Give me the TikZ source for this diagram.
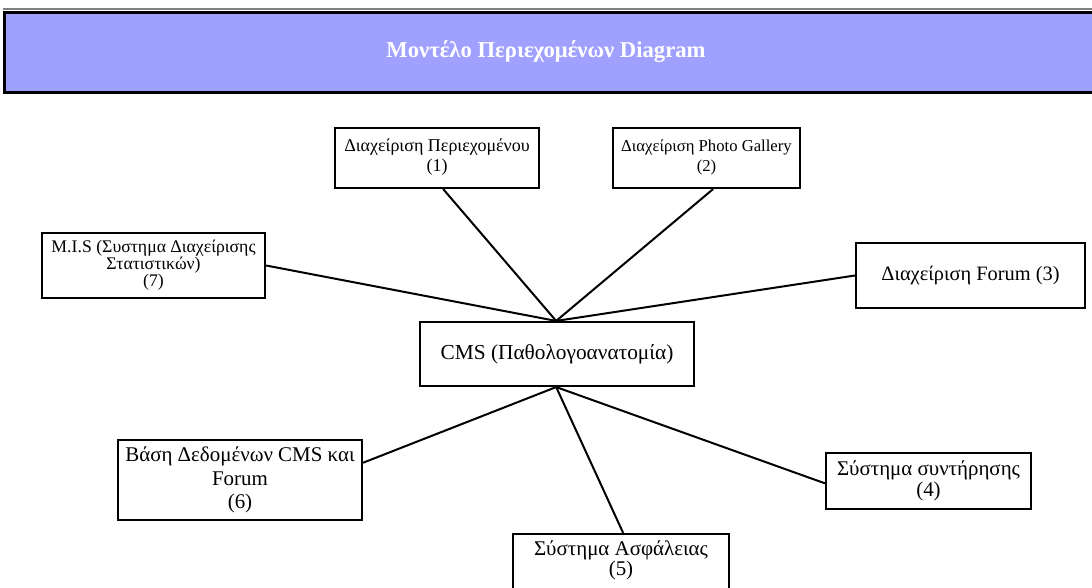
\documentclass[tikz,border=0pt]{standalone}
\usepackage{fontspec}
\setmainfont{Liberation Serif}
\usetikzlibrary{calc}
\definecolor{titlefill}{HTML}{A0A0FF}
\tikzset{
  box/.style={draw=black, line width=1.6pt, fill=white, align=center, inner sep=2pt},
  link/.style={draw=black, line width=1.5pt},
}
\begin{document}
\begin{tikzpicture}[x=0.75pt,y=-0.75pt]
\useasboundingbox (0,0) rectangle (1092,588);
% title bar
\draw[gray, line width=1.2pt] (3,9) -- (1100,9);
\draw[gray, line width=1.2pt] (3,93) -- (1100,93);
\node[draw=black, line width=2pt, fill=titlefill, minimum width=1110*0.75pt, minimum height=80*0.75pt, anchor=north west, inner sep=0pt] (title) at (3,11) {};
\node[text=white, font=\bfseries\fontsize{17}{20}\selectfont] (ttext) at (546,52) {Μοντέλο Περιεχομένων Diagram};
% boxes
\node[box, minimum width=204*0.75pt, minimum height=60*0.75pt, font=\fontsize{13.5}{15}\selectfont] (b1) at (437,158) {Διαχείριση Περιεχομένου\\(1)\\[-10.5pt]};
\node[box, minimum width=187*0.75pt, minimum height=60*0.75pt, font=\fontsize{12.5}{15}\selectfont] (b2) at (706.5,158) {Διαχείριση Photo Gallery\\(2)\\[-11pt]};
\node[box, minimum width=223*0.75pt, minimum height=65*0.75pt, font=\fontsize{13.3}{12.8}\selectfont] (b7) at (153.5,265.5) {M.I.S (Συστημα Διαχείρισης\\Στατιστικών)\\(7)};
\node[box, minimum width=229*0.75pt, minimum height=65*0.75pt, font=\fontsize{15.3}{15}\selectfont] (b3) at (970.5,275.5) {Διαχείριση Forum (3)};
\node[box, minimum width=274*0.75pt, minimum height=64*0.75pt, font=\fontsize{16}{16}\selectfont] (cms) at (557,354) {CMS (Παθολογοανατομία)};
\node[box, minimum width=244*0.75pt, minimum height=80*0.75pt, font=\fontsize{15.7}{17.5}\selectfont] (b6) at (240,480) {Βάση Δεδομένων CMS και\\Forum\\(6)};
\node[box, minimum width=216*0.75pt, minimum height=70*0.75pt, anchor=north, font=\fontsize{15.7}{15}\selectfont] (b5) at (621,533) {Σύστημα Ασφάλειας\\(5)\\[2pt]};
\node[box, minimum width=205*0.75pt, minimum height=56*0.75pt, font=\fontsize{15.7}{15.5}\selectfont] (b4) at (928.5,481) {Σύστημα συντήρησης\\(4)};
% connectors
\coordinate (top) at ($(cms.north west)!0.497!(cms.north east)$);
\coordinate (bot) at ($(cms.south west)!0.497!(cms.south east)$);
\draw[link] ($(b1.south west)!0.53!(b1.south east)$) -- (top);
\draw[link] ($(b2.south west)!0.535!(b2.south east)$) -- (top);
\draw[link] ($(b7.north east)!0.5!(b7.south east)$) -- (top);
\draw[link] ($(b3.north west)!0.5!(b3.south west)$) -- (top);
\draw[link] ($(b6.north east)!0.29!(b6.south east)$) -- (bot);
\draw[link] ($(b5.north west)!0.51!(b5.north east)$) -- (bot);
\draw[link] ($(b4.north west)!0.54!(b4.south west)$) -- (bot);
\end{tikzpicture}
\end{document}
